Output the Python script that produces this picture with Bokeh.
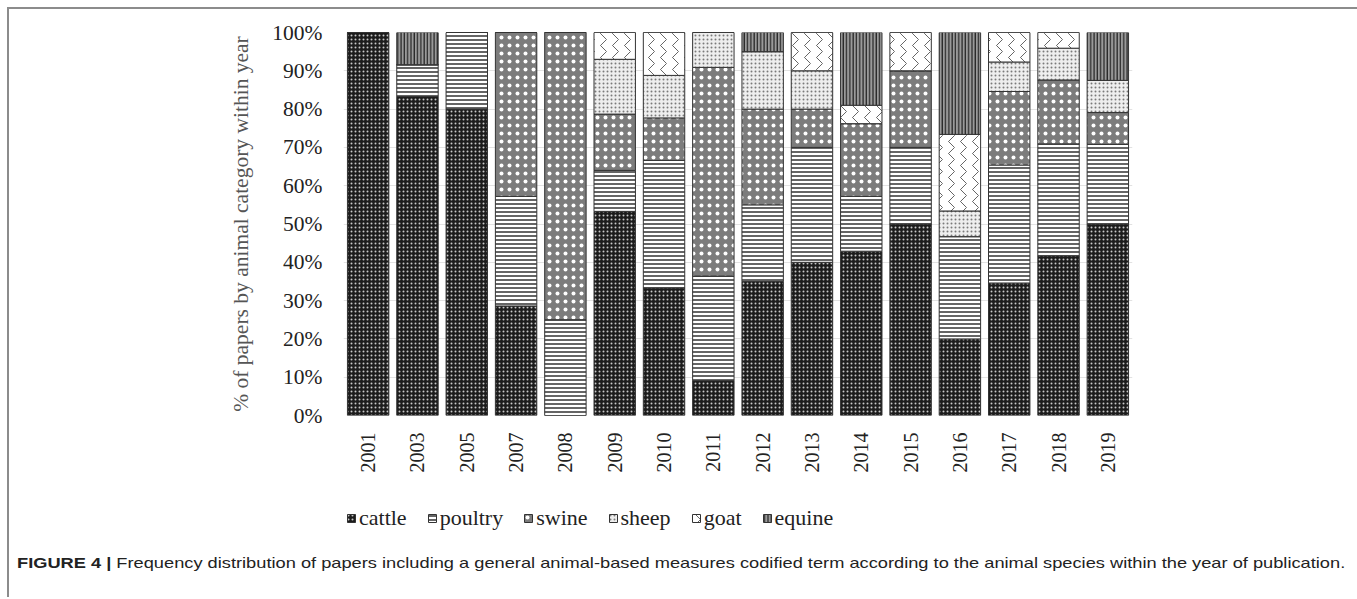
import math
from bokeh.plotting import figure
from bokeh.layouts import column
from bokeh.models import (Range1d, FactorRange, FixedTicker, PrintfTickFormatter,
                          Legend, LegendItem, ColumnDataSource, Div)
from bokeh.embed import file_html
from bokeh.resources import INLINE

years = ["2001", "2003", "2005", "2007", "2008", "2009", "2010", "2011",
         "2012", "2013", "2014", "2015", "2016", "2017", "2018", "2019"]
cattle = [100, 83.3, 80, 28.6, 0, 53.3, 33.3, 9.1, 35, 40, 42.9, 50, 20, 34.6, 41.7, 50]
poultry = [0, 8.3, 20, 28.6, 25, 10.7, 33.3, 27.3, 20, 30, 14.3, 20, 26.7, 30.8, 29.2, 20.8]
swine = [0, 0, 0, 42.8, 75, 14.7, 11.1, 54.5, 25, 10, 19.0, 20, 0, 19.2, 16.7, 8.3]
sheep = [0, 0, 0, 0, 0, 14.3, 11.1, 9.1, 15, 10, 0, 0, 6.7, 7.7, 8.3, 8.4]
goat = [0, 0, 0, 0, 0, 7.0, 11.2, 0, 0, 10, 4.8, 10, 20, 7.7, 4.1, 0]
equine = [0, 8.4, 0, 0, 0, 0, 0, 0, 5, 0, 19.0, 0, 26.6, 0, 0, 12.5]
species = ["cattle", "poultry", "swine", "sheep", "goat", "equine"]
y_ticks = [0, 10, 20, 30, 40, 50, 60, 70, 80, 90, 100]

axis_title = "% of papers by animal category within year"
caption_bold = "FIGURE 4 |"
caption_text = ("Frequency distribution of papers including a general animal-based measures "
                "codified term according to the animal species within the year of publication.")

src = ColumnDataSource(dict(years=years, cattle=cattle, poultry=poultry, swine=swine,
                            sheep=sheep, goat=goat, equine=equine))

fills = ["#1c1c1c", "#ffffff", "#7c7c7c", "#eeeeee", "#ffffff", "#9a9a9a"]
hpat = ["dot", "horizontal_line", "dot", "dot", "vertical_wave", "vertical_line"]
hcol = ["#c8c8c8", "#222222", "#ffffff", "#7a7a7a", "#666666", "#222222"]
hscale = [4, 4, 8, 4, 12, 3.3]
hweight = [1.3, 1.4, 2.0, 1.6, 1.0, 1.2]
style = dict(fill_color=fills, hatch_pattern=hpat, hatch_color=hcol,
             hatch_scale=hscale, hatch_weight=hweight, line_color="#333333", line_width=1)

W = 1345
# ---- main chart ----
p = figure(width=W, height=466, x_range=FactorRange(*years), y_range=Range1d(0, 100),
           output_backend="svg", toolbar_location=None,
           min_border_left=334, min_border_right=222, min_border_top=23, min_border_bottom=60)
p.outline_line_color = None
p.vbar_stack(species, x="years", width=0.84, source=src, **style)

p.xgrid.grid_line_color = None
p.ygrid.grid_line_color = "#e2e2e2"
p.ygrid.grid_line_width = 1

p.yaxis.ticker = FixedTicker(ticks=y_ticks)
p.yaxis.formatter = PrintfTickFormatter(format="%d%%")
for ax in (p.xaxis, p.yaxis):
    ax.axis_line_color = None
    ax.major_tick_line_color = None
    ax.minor_tick_line_color = None
    ax.major_tick_out = 0
    ax.major_tick_in = 0
    ax.minor_tick_out = 0
    ax.major_label_text_font = "Liberation Serif"
    ax.major_label_text_color = "#222222"
p.yaxis.major_label_text_font_size = "21.5px"
p.yaxis.major_label_standoff = 21
p.yaxis.axis_label = axis_title
p.yaxis.axis_label_text_font = "Liberation Serif"
p.yaxis.axis_label_text_font_size = "21.5px"
p.yaxis.axis_label_text_font_style = "normal"
p.yaxis.axis_label_text_color = "#555555"
p.yaxis.axis_label_standoff = 16

p.xaxis.major_label_text_font_size = "20px"
p.xaxis.major_label_orientation = math.pi / 2
p.xaxis.major_label_standoff = 17

# ---- legend strip (same series as hidden renderers; only the legend is shown) ----
lg = figure(width=W, height=72, x_range=p.x_range, y_range=Range1d(0, 100),
            output_backend="svg", toolbar_location=None,
            x_axis_location=None, y_axis_location=None,
            min_border_left=0, min_border_right=0, min_border_top=0, min_border_bottom=0)
lg.outline_line_color = None
lg.grid.visible = False
rs = lg.vbar_stack(species, x="years", width=0.84, source=src, **style)
for r in rs:
    r.visible = False
legend = Legend(items=[LegendItem(label=s, renderers=[r]) for s, r in zip(species, rs)],
                orientation="horizontal", location=(3, 16),
                label_text_font="Liberation Serif", label_text_font_size="22px",
                label_text_color="#222222",
                glyph_width=10, glyph_height=10, label_standoff=3, spacing=20,
                padding=0, margin=0, border_line_color=None, background_fill_alpha=0,
                inactive_fill_alpha=0)
lg.add_layout(legend)

# ---- caption ----
cap = Div(text=('<div style="white-space:nowrap; font-family:\'Liberation Sans\'; '
                'font-size:15px; color:#222222; transform:scaleX(1.216); '
                'transform-origin:0 50%;">'
                '<b>' + caption_bold + '</b> ' + caption_text + '</div>'),
          width=W, height=40, styles={"padding-left": "3px"})

layout = column(p, lg, cap, spacing=0,
                styles={"border-top": "2px solid #8c8c8c", "border-left": "2px solid #8c8c8c",
                        "border-right": "2px solid #8c8c8c", "margin-left": "7px",
                        "margin-top": "7px"})

open("out.html", "w").write(file_html(layout, INLINE))
